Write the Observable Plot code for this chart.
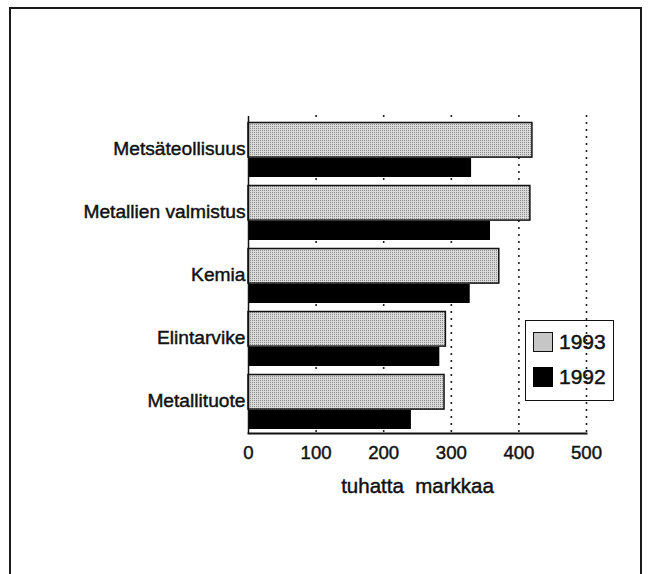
<!DOCTYPE html>
<html>
<head>
<meta charset="utf-8">
<script src="https://cdn.jsdelivr.net/npm/d3@7"></script>
<script src="https://cdn.jsdelivr.net/npm/@observablehq/plot@0.6"></script>
<style>
  html, body { margin: 0; padding: 0; background: #fff; }
  #wrap { position: relative; width: 650px; height: 574px; overflow: hidden; font-family: "Liberation Sans", Arial, Helvetica, sans-serif; }
  #border { position: absolute; left: 9px; top: 7px; width: 633px; height: 600px; border: 2px solid #1a1a1a; box-sizing: border-box; }
  #chart { position: absolute; left: 0; top: 0; }
  #chart svg text { stroke: #111 !important; stroke-width: 0.45px !important; }
  #legend { position: absolute; left: 525px; top: 320px; width: 89px; height: 81px; border: 1.5px solid #111; box-sizing: border-box; }
  .item { position: absolute; left: 7px; height: 20px; display: flex; align-items: center; font-size: 21px; color: #111; -webkit-text-stroke: 0.45px #111; }
  .sw { width: 20px; height: 20px; box-sizing: border-box; margin-right: 6px; }
</style>
</head>
<body>
<div id="wrap">
  <div id="border"></div>
  <div id="chart"></div>
  <div id="legend"></div>
</div>
<script>
const categories = ["Metsäteollisuus", "Metallien valmistus", "Kemia", "Elintarvike", "Metallituote"];
const values1993 = [420, 417, 371, 292, 290];
const values1992 = [330, 358, 328, 283, 241];
const xTicks = [0, 100, 200, 300, 400, 500];
const gridTicks = [100, 200, 300, 400, 500];
const seriesNames = ["1993", "1992"];
const xLabel = "tuhatta\u00a0\u00a0markkaa";

const data1993 = categories.map((c, i) => ({category: c, value: values1993[i]}));
const data1992 = categories.map((c, i) => ({category: c, value: values1992[i]}));

const H = 574, mTop = 116, mBottom = 141;
const band = (H - mTop - mBottom) / categories.length;

const chart = Plot.plot({
  width: 650,
  height: H,
  marginLeft: 248,
  marginRight: 64,
  marginTop: mTop,
  marginBottom: mBottom,
  style: {fontFamily: "'Liberation Sans', Arial, Helvetica, sans-serif", color: "#111", background: "transparent"},
  x: {domain: [0, 500]},
  y: {domain: categories, padding: 0},
  marks: [
    Plot.ruleX(gridTicks, {stroke: "#111", strokeWidth: 2, strokeDasharray: "0,7", strokeLinecap: "round"}),
    Plot.barX(data1992, {x: "value", y: "category", fill: "#000", insetTop: 41, insetBottom: 3}),
    Plot.barX(data1993, {x: "value", y: "category", fill: "url(#halftone)", stroke: "#111", strokeWidth: 1.5, insetTop: 5.5, insetBottom: band - 40.5}),
    Plot.ruleX([0], {stroke: "#111", strokeWidth: 1.5}),
    Plot.frame({anchor: "bottom", stroke: "#111", strokeWidth: 2}),
    Plot.axisX({ticks: xTicks, tickSize: 0, tickPadding: 12, fontSize: 18.6, label: null, tickFormat: d => String(d)}),
    Plot.axisY({tickSize: 0, tickPadding: 3, fontSize: 19.2, label: null}),
    Plot.text([xLabel], {frameAnchor: "bottom", dy: 53, fontSize: 20.5, text: d => d, lineAnchor: "middle", fill: "#111"})
  ]
});

// halftone pattern for the 1993 bars
const ns = "http://www.w3.org/2000/svg";
const defs = document.createElementNS(ns, "defs");
const pat = document.createElementNS(ns, "pattern");
pat.setAttribute("id", "halftone");
pat.setAttribute("width", "2");
pat.setAttribute("height", "2");
pat.setAttribute("patternUnits", "userSpaceOnUse");
const bg = document.createElementNS(ns, "rect");
bg.setAttribute("width", "2"); bg.setAttribute("height", "2"); bg.setAttribute("fill", "#dadada");
const d1 = document.createElementNS(ns, "rect");
d1.setAttribute("width", "1"); d1.setAttribute("height", "1"); d1.setAttribute("fill", "#8a8a8a");
pat.appendChild(bg); pat.appendChild(d1);
defs.appendChild(pat);
chart.insertBefore(defs, chart.firstChild);

document.getElementById("chart").appendChild(chart);

// legend
const legend = document.getElementById("legend");
const swFills = ["#c6c6c6", "#000"];
seriesNames.forEach((name, i) => {
  const item = document.createElement("div");
  item.className = "item";
  item.style.top = (11 + i * 35) + "px";
  const sw = document.createElement("div");
  sw.className = "sw";
  sw.style.background = swFills[i];
  sw.style.border = i === 0 ? "1.5px solid #111" : "none";
  const t = document.createElement("span");
  t.textContent = name;
  item.appendChild(sw); item.appendChild(t);
  legend.appendChild(item);
});
</script>
</body>
</html>
